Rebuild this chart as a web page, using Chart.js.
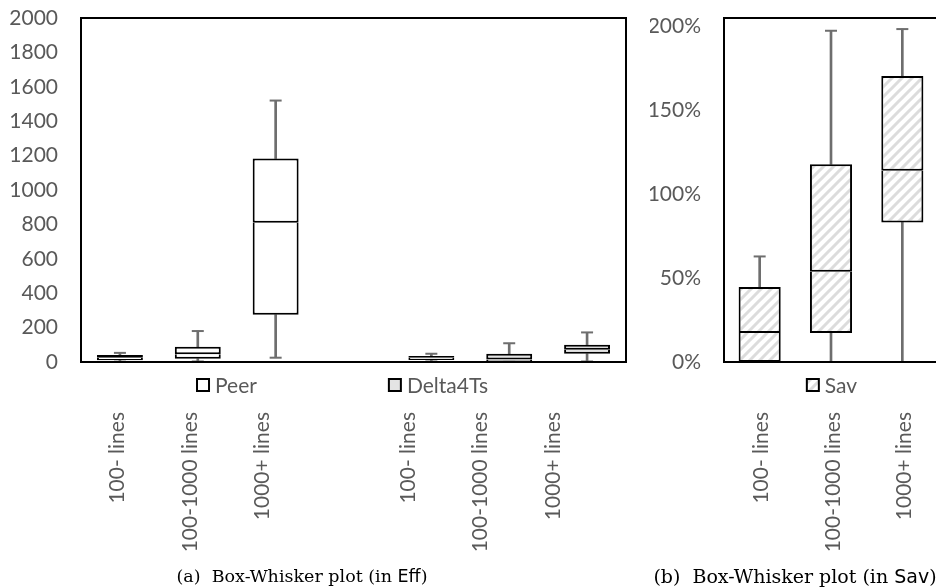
<!DOCTYPE html>
<html>
<head>
<meta charset="utf-8">
<script src="https://cdn.jsdelivr.net/npm/chart.js@4"></script>
<style>
  html, body { margin: 0; padding: 0; background: #fff; overflow: hidden; }
  body { width: 936px; height: 588px; position: relative; }
  #eff { position: absolute; left: 0; top: 0; }
  #sav { position: absolute; left: 650px; top: 0; }
  .caption {
    position: absolute; top: 566px; transform: translateX(-50%);
    font-family: "DejaVu Serif", serif; font-size: 17.5px; line-height: 20px;
    color: #000; white-space: nowrap;
  }
  .caption .sf { font-family: "DejaVu Sans", sans-serif; }
</style>
</head>
<body>
<canvas id="eff" width="650" height="588"></canvas>
<canvas id="sav" width="296" height="588"></canvas>
<div class="caption" style="left:302px">(a)&nbsp; Box-Whisker plot (in <span class="sf">Eff</span>)</div>
<div class="caption" style="left:795px; font-size:19px">(b)&nbsp; Box-Whisker plot (in <span class="sf">Sav</span>)</div>

<script>
// Size groups of the test programs
const sizeGroups = ['100- lines', '100-1000 lines', '1000+ lines'];

// Eff panel: Peer occupies the first three slots, Delta4Ts the last three
const effSlots = ['100- lines', '100-1000 lines', '1000+ lines', '', '100- lines', '100-1000 lines', '1000+ lines'];

// Peer
const peerMin    = [2, 3, 25];
const peerQ1     = [10, 19, 275];
const peerMedian = [24, 45, 810];
const peerQ3     = [41, 89, 1183];
const peerMax    = [53, 180, 1520];

// Delta4Ts
const deltaMin    = [3, 2, 3];
const deltaQ1     = [12, 2, 48];
const deltaMedian = [24, 15, 71];
const deltaQ3     = [35, 48, 101];
const deltaMax    = [48, 109, 172];

// Sav (fractions, shown as percentages)
const savMin    = [0, 0, 0];
const savQ1     = [0, 0.173, 0.832];
const savMedian = [0.173, 0.538, 1.140];
const savQ3     = [0.447, 1.178, 1.704];
const savMax    = [0.629, 1.974, 1.984];

// Value-axis ticks
const effTicks = [0, 200, 400, 600, 800, 1000, 1200, 1400, 1600, 1800, 2000];
const savTicks = [0, 0.5, 1, 1.5, 2];
const effTop = 2000;
const savTop = 2.05;

Chart.defaults.font.family = 'Lato';
Chart.defaults.font.size = 21;
Chart.defaults.color = '#595959';

const WHISKER = '#6e6e6e';

// diagonal hatch used for the Sav boxes
function hatch() {
  const c = document.createElement('canvas');
  c.width = 10; c.height = 10;
  const g = c.getContext('2d');
  g.fillStyle = '#fff';
  g.fillRect(0, 0, 10, 10);
  g.strokeStyle = '#dcdcdc';
  g.lineWidth = 3;
  g.beginPath();
  g.moveTo(-2, 12); g.lineTo(12, -2);
  g.moveTo(-2, 2); g.lineTo(2, -2);
  g.moveTo(8, 12); g.lineTo(12, 8);
  g.stroke();
  return g.createPattern(c, 'repeat');
}

// place per-group values into the category slots of a panel
function slot(values, offset, total) {
  const out = new Array(total).fill(null);
  values.forEach((v, i) => { out[offset + i] = v; });
  return out;
}
function pairs(a, b) { return a.map((v, i) => [v, b[i]]); }

function boxSeries(label, mins, q1, med, q3, maxs, offset, total, fill) {
  const common = { xAxisID: 'x', yAxisID: 'y', grouped: false,
                   categoryPercentage: 1, barPercentage: 0.59 };
  return [
    // upper half of the box; its bottom edge is the median line
    Object.assign({}, common, {
      type: 'bar', label, legendEntry: true, order: 0,
      data: slot(pairs(med, q3), offset, total),
      backgroundColor: fill, borderColor: '#000', borderSkipped: false,
      borderWidth: { top: 2, left: 2, right: 2, bottom: 2 }
    }),
    // lower half of the box
    Object.assign({}, common, {
      type: 'bar', label, order: 0,
      data: slot(pairs(q1, med), offset, total),
      backgroundColor: fill, borderColor: '#000', borderSkipped: false,
      borderWidth: { top: 0, left: 2, right: 2, bottom: 2 }
    }),
    // whiskers
    Object.assign({}, common, {
      type: 'bar', label, order: 2, barThickness: 2,
      data: slot(pairs(mins, q1), offset, total),
      backgroundColor: WHISKER, borderWidth: 0
    }),
    Object.assign({}, common, {
      type: 'bar', label, order: 2, barThickness: 2,
      data: slot(pairs(q3, maxs), offset, total),
      backgroundColor: WHISKER, borderWidth: 0
    }),
    // whisker caps
    { type: 'line', label, order: 1, xAxisID: 'x', yAxisID: 'y', showLine: false,
      data: slot(maxs, offset, total), pointStyle: 'line', pointRadius: 6,
      borderColor: WHISKER, pointBorderColor: WHISKER, pointBorderWidth: 2 },
    { type: 'line', label, order: 1, xAxisID: 'x', yAxisID: 'y', showLine: false,
      data: slot(mins, offset, total), pointStyle: 'line', pointRadius: 6,
      borderColor: WHISKER, pointBorderColor: WHISKER, pointBorderWidth: 2 }
  ];
}

// plot-area frame
const frame = {
  id: 'frame',
  afterDatasetsDraw(chart) {
    const a = chart.chartArea, ctx = chart.ctx;
    ctx.save();
    ctx.strokeStyle = '#000';
    ctx.lineWidth = 2;
    ctx.strokeRect(a.left, a.top, a.right - a.left, a.bottom - a.top);
    ctx.restore();
  }
};

// legend drawn between the plot area and the rotated category labels
const boxLegend = {
  id: 'boxLegend',
  afterDraw(chart, args, opts) {
    const ctx = chart.ctx, a = chart.chartArea;
    const items = chart.data.datasets.filter(d => d.legendEntry);
    const mark = 12, gapText = 6;
    ctx.save();
    ctx.font = '21px Lato';
    const widths = items.map(d => mark + gapText + ctx.measureText(d.label).width);
    const total = widths.reduce((s, w) => s + w, 0) + opts.gap * (items.length - 1);
    let x = (a.left + a.right) / 2 - total / 2 + opts.shift;
    const y = a.bottom + opts.offsetY;
    items.forEach((d, i) => {
      ctx.fillStyle = d.backgroundColor;
      ctx.fillRect(x, y - mark / 2, mark, mark);
      ctx.strokeStyle = '#000';
      ctx.lineWidth = 2;
      ctx.strokeRect(x, y - mark / 2, mark, mark);
      ctx.fillStyle = '#595959';
      ctx.textBaseline = 'middle';
      ctx.textAlign = 'left';
      ctx.fillText(d.label, x + mark + gapText, y + 1);
      x += widths[i] + opts.gap;
    });
    ctx.restore();
  }
};

// keep label overhang from shrinking the plot area
function noPadding(s) { s.paddingTop = s.paddingBottom = s.paddingLeft = s.paddingRight = 0; }

function yAxis(top, ticks, width, fmt) {
  return {
    position: 'left', min: 0, max: top,
    grid: { display: false, drawTicks: true, tickLength: 23 },
    border: { display: false },
    ticks: { padding: 0, callback: fmt },
    afterBuildTicks: s => { s.ticks = ticks.map(v => ({ value: v })); },
    afterFit: s => { s.width = width; noPadding(s); }
  };
}

const LABEL_AXIS_HEIGHT = 588 - 362;

// ---- Eff panel ----
new Chart(document.getElementById('eff'), {
  type: 'bar',
  data: {
    labels: effSlots,
    datasets: [
      ...boxSeries('Peer', peerMin, peerQ1, peerMedian, peerQ3, peerMax, 0, effSlots.length, '#ffffff'),
      ...boxSeries('Delta4Ts', deltaMin, deltaQ1, deltaMedian, deltaQ3, deltaMax, 4, effSlots.length, '#e4e4e4')
    ]
  },
  options: {
    responsive: false, animation: false, devicePixelRatio: 1,
    layout: { padding: { top: 18, right: 24, left: 0, bottom: 0 } },
    plugins: { legend: { display: false }, tooltip: { enabled: false },
               boxLegend: { gap: 132, shift: -11, offsetY: 23 } },
    scales: {
      x: { type: 'category', display: false, offset: true },
      // category labels sit on a slightly tighter pitch than the boxes
      xl: {
        type: 'linear', position: 'bottom', min: -0.5, max: 7, offset: false,
        grid: { display: false, drawTicks: true, tickLength: 50 }, border: { display: false },
        afterBuildTicks: s => { s.ticks = effSlots.map((t, i) => ({ value: i })).filter(t => effSlots[t.value]); },
        ticks: { minRotation: 90, maxRotation: 90, autoSkip: false, padding: 0,
                 callback: v => effSlots[v] },
        afterFit: s => { s.height = LABEL_AXIS_HEIGHT; noPadding(s); }
      },
      y: yAxis(effTop, effTicks, 81, v => String(v))
    }
  },
  plugins: [frame, boxLegend]
});

// ---- Sav panel (its right edge runs past the page) ----
new Chart(document.getElementById('sav'), {
  type: 'bar',
  data: {
    labels: sizeGroups,
    datasets: boxSeries('Sav', savMin, savQ1, savMedian, savQ3, savMax, 0, sizeGroups.length, hatch())
  },
  options: {
    responsive: false, animation: false, devicePixelRatio: 1,
    layout: { padding: { top: 18, right: 0, left: 0, bottom: 0 } },
    plugins: { legend: { display: false }, tooltip: { enabled: false },
               boxLegend: { gap: 0, shift: 1, offsetY: 23 } },
    scales: {
      x: { type: 'category', display: false, offset: true },
      xl: {
        type: 'category', position: 'bottom', labels: sizeGroups, offset: true,
        grid: { display: false, drawTicks: true, tickLength: 50 }, border: { display: false },
        ticks: { minRotation: 90, maxRotation: 90, autoSkip: false, padding: 0, labelOffset: 2 },
        afterFit: s => { s.height = LABEL_AXIS_HEIGHT; noPadding(s); }
      },
      y: yAxis(savTop, savTicks, 74, v => Math.round(v * 100) + '%')
    }
  },
  plugins: [frame, boxLegend]
});
</script>
</body>
</html>
